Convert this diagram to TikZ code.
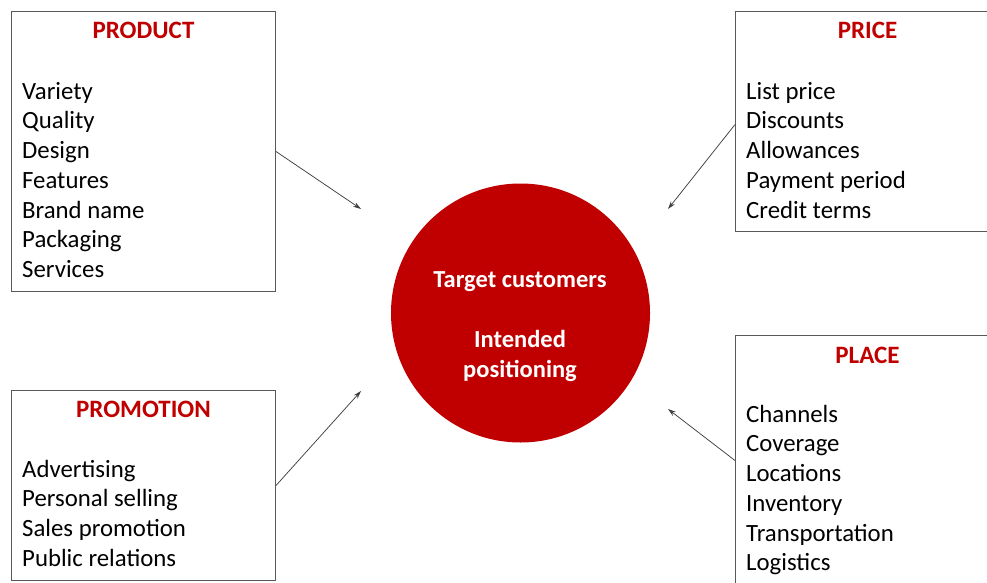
\documentclass[tikz,border=0pt]{standalone}
\usepackage{fontspec}
\setmainfont{Carlito}
\usepackage{tikz}
\usetikzlibrary{positioning,arrows.meta}
\definecolor{mixred}{RGB}{192,0,0}
\definecolor{boxgray}{RGB}{89,89,89}
\definecolor{arrowgray}{RGB}{64,64,64}

\tikzset{
  pbox/.style={draw=boxgray, line width=1pt, anchor=north west, inner sep=0pt, minimum width=264pt},
  ptitle/.style={text=mixred, font=\fontsize{25}{29.7}\selectfont\bfseries, anchor=base, inner sep=0pt},
  pitem/.style={font=\fontsize{24.8}{29.7}\selectfont, anchor=base west, inner sep=0pt},
  mixtext/.style={text=white, font=\fontsize{24.5}{30}\selectfont\bfseries, anchor=base, inner sep=0pt},
  parrow/.style={draw=arrowgray, line width=0.75pt, -{Stealth[length=8pt,width=5pt]}},
}

\begin{document}
\begin{tikzpicture}[x=1pt,y=-1pt]
  \useasboundingbox (0,0) rectangle (987,583);

  % the four boxes
  \node[pbox, minimum height=280pt] (product) at (11,11) {};
  \node[pbox, minimum height=220pt] (price) at (735,11) {};
  \node[pbox, minimum height=190pt] (promotion) at (11,390) {};
  \node[pbox, minimum height=250pt] (place) at (735,335) {};

  \node[ptitle] (product-title) at ([yshift=-27.5pt]product.north) {PRODUCT};
  \node[ptitle] (price-title) at ([yshift=-27.5pt]price.north) {PRICE};
  \node[ptitle] (promotion-title) at ([yshift=-27.5pt]promotion.north) {PROMOTION};
  \node[ptitle] (place-title) at ([yshift=-28pt]place.north) {PLACE};

  \foreach \t [count=\i] in {Variety,Quality,Design,Features,Brand name,Packaging,Services}
    \node[pitem] (product-\i) at ([xshift=11pt,yshift=-58.5pt-29.7pt*\i]product.north west) {\t};
  \foreach \t [count=\i] in {List price,Discounts,Allowances,Payment period,Credit terms}
    \node[pitem] (price-\i) at ([xshift=11pt,yshift=-58.5pt-29.7pt*\i]price.north west) {\t};
  \foreach \t [count=\i] in {Advertising,Personal selling,Sales promotion,Public relations}
    \node[pitem] (promotion-\i) at ([xshift=11pt,yshift=-57.5pt-29.7pt*\i]promotion.north west) {\t};
  \foreach \t [count=\i] in {Channels,Coverage,Locations,Inventory,Transportation,Logistics}
    \node[pitem] (place-\i) at ([xshift=11pt,yshift=-57.5pt-29.7pt*\i]place.north west) {\t};

  % the marketing mix circle
  \node[circle, fill=mixred, minimum size=259pt, inner sep=0pt] (mix) at (520.5,313) {};
  \node[mixtext] (mix-target) at (520,287) {Target customers};
  \node[mixtext] (mix-intended) at (520,347) {Intended};
  \node[mixtext] (mix-positioning) at (520,377) {positioning};

  \coordinate (product-tip) at (361,209);
  \coordinate (price-tip) at (668,209);
  \coordinate (promotion-tip) at (361,391);
  \coordinate (place-tip) at (668,409);

  \draw[parrow] (product.east) -- (product-tip);
  \draw[parrow] ([yshift=-3pt]price.west) -- (price-tip);
  \draw[parrow] (promotion.east) -- (promotion-tip);
  \draw[parrow] (place.west) -- (place-tip);
\end{tikzpicture}
\end{document}
